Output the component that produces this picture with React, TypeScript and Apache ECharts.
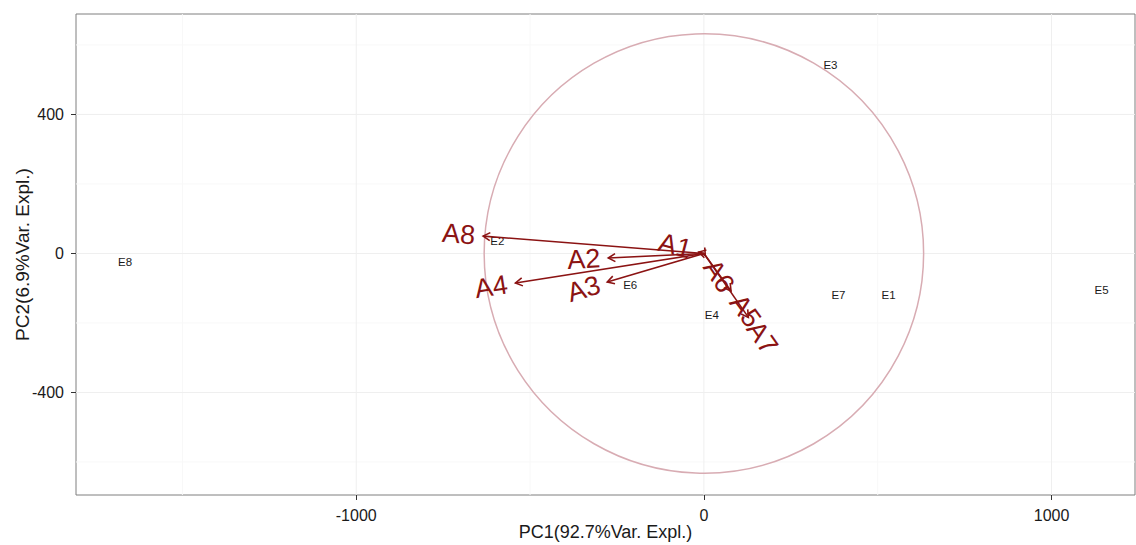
import { useEffect, useRef } from 'react';
import * as echarts from 'echarts';

// Sample scores (PC1, PC2)
const sampleNames = ['E1', 'E2', 'E3', 'E4', 'E5', 'E6', 'E7', 'E8'];
const sampleX = [531, -594, 364, 23, 1144, -212, 387, -1665];
const sampleY = [-119, 36, 542, -177, -104, -91, -119, -24];

// Variable loadings drawn as arrows from the origin
const varNames = ['A1', 'A2', 'A3', 'A4', 'A5', 'A6', 'A7', 'A8'];
const varX = [-15, -275, -278, -542, 78, 4, 128, -635];
const varY = [4, -13, -82, -85, -108, -6, -184, 50];

// Correlation circle radius in score units
const circleRadius = 632;

// Axis ranges and tick/grid positions
const xRange = [-1806, 1240];
const yRange = [-695, 689];
const xTicks = [-1000, 0, 1000];
const yTicks = [-400, 0, 400];
const xMinor = [-1500, -500, 500];
const yMinor = [-600, -200, 200, 600];

const FONT = '"Liberation Sans", Arial, sans-serif';
const DARKRED = '#8b1313';

// rows: [value, orientation (0 = vertical, 1 = horizontal), major flag]
const gridRows: number[][] = [
  ...xMinor.map((v) => [v, 0, 0]),
  ...yMinor.map((v) => [v, 1, 0]),
  ...xTicks.map((v) => [v, 0, 1]),
  ...yTicks.map((v) => [v, 1, 1]),
];

const plainNumber = (v: number) => String(v);

const option: any = {
  animation: false,
  backgroundColor: '#ffffff',
  grid: {
    left: 76,
    right: 1,
    top: 14,
    bottom: 50,
    containLabel: false,
    outerBoundsMode: 'none',
    show: true,
    borderColor: '#7f7f7f',
    borderWidth: 1,
    backgroundColor: '#ffffff',
  },
  xAxis: {
    type: 'value',
    min: xRange[0],
    max: xRange[1],
    name: 'PC1(92.7%Var. Expl.)',
    nameLocation: 'middle',
    nameGap: 28,
    nameMoveOverlap: false,
    nameTextStyle: { fontSize: 18, color: '#1a1a1a', fontFamily: FONT },
    axisLine: { show: false, onZero: false },
    axisTick: { show: true, customValues: xTicks, length: 5, lineStyle: { color: '#333333', width: 1 } },
    axisLabel: {
      customValues: xTicks,
      formatter: plainNumber,
      fontSize: 16,
      color: '#1a1a1a',
      margin: 12,
      fontFamily: FONT,
    },
    splitLine: { show: false },
  },
  yAxis: {
    type: 'value',
    min: yRange[0],
    max: yRange[1],
    name: 'PC2(6.9%Var. Expl.)',
    nameLocation: 'middle',
    nameGap: 44,
    nameMoveOverlap: false,
    nameTextStyle: { fontSize: 19, color: '#1a1a1a', fontFamily: FONT },
    axisLine: { show: false, onZero: false },
    axisTick: { show: true, customValues: yTicks, length: 5, lineStyle: { color: '#333333', width: 1 } },
    axisLabel: {
      customValues: yTicks,
      formatter: plainNumber,
      fontSize: 16,
      color: '#1a1a1a',
      margin: 12,
      fontFamily: FONT,
    },
    splitLine: { show: false },
  },
  series: [
    {
      // background grid lines
      type: 'custom',
      z: 1,
      silent: true,
      data: gridRows,
      dimensions: ['v', 'o', 'm'],
      encode: { x: 0, y: 1 },
      renderItem: (_params: any, api: any) => {
        const v = api.value(0);
        const vertical = api.value(1) === 0;
        const major = api.value(2) === 1;
        const p1 = vertical ? api.coord([v, yRange[0]]) : api.coord([xRange[0], v]);
        const p2 = vertical ? api.coord([v, yRange[1]]) : api.coord([xRange[1], v]);
        return {
          type: 'line',
          shape: { x1: p1[0], y1: p1[1], x2: p2[0], y2: p2[1] },
          style: { stroke: major ? '#efefef' : '#f8f8f8', lineWidth: 1 },
        };
      },
    },
    {
      // correlation circle
      type: 'custom',
      z: 2,
      silent: true,
      data: [[0, 0, circleRadius]],
      encode: { x: 0, y: 1 },
      renderItem: (_params: any, api: any) => {
        const c = api.coord([api.value(0), api.value(1)]);
        const r = api.size([api.value(2), 0])[0];
        return {
          type: 'circle',
          shape: { cx: c[0], cy: c[1], r },
          style: { fill: 'none', stroke: '#d8acb3', lineWidth: 1.5 },
        };
      },
    },
    {
      // sample labels
      type: 'custom',
      z: 3,
      silent: true,
      data: sampleX.map((x, i) => [x, sampleY[i]]),
      encode: { x: 0, y: 1 },
      renderItem: (params: any, api: any) => {
        const p = api.coord([api.value(0), api.value(1)]);
        return {
          type: 'text',
          x: p[0],
          y: p[1],
          style: {
            text: sampleNames[params.dataIndex],
            align: 'center',
            verticalAlign: 'middle',
            fill: '#1a1a1a',
            fontSize: 11.5,
            fontFamily: FONT,
          },
        };
      },
    },
    {
      // loading arrows with rotated labels
      type: 'custom',
      z: 4,
      silent: true,
      data: varX.map((x, i) => [x, varY[i]]),
      encode: { x: 0, y: 1 },
      renderItem: (params: any, api: any) => {
        const vx = api.value(0);
        const vy = api.value(1);
        const o = api.coord([0, 0]);
        const e = api.coord([vx, vy]);
        const dx = o[0] - e[0];
        const dy = o[1] - e[1];
        const len = Math.hypot(dx, dy) || 1;
        const ux = dx / len;
        const uy = dy / len;
        const headLen = 8;
        const a = Math.PI / 6;
        const h1 = [
          e[0] + headLen * (ux * Math.cos(a) - uy * Math.sin(a)),
          e[1] + headLen * (ux * Math.sin(a) + uy * Math.cos(a)),
        ];
        const h2 = [
          e[0] + headLen * (ux * Math.cos(-a) - uy * Math.sin(-a)),
          e[1] + headLen * (ux * Math.sin(-a) + uy * Math.cos(-a)),
        ];
        const angle = Math.atan(vy / vx);
        const left = vx < 0;
        return {
          type: 'group',
          children: [
            {
              type: 'line',
              shape: { x1: o[0], y1: o[1], x2: e[0], y2: e[1] },
              style: { stroke: DARKRED, lineWidth: 1.6 },
            },
            {
              type: 'polyline',
              shape: { points: [h1, e, h2] },
              style: { stroke: DARKRED, lineWidth: 1.6, fill: 'none' },
            },
            {
              type: 'text',
              x: e[0],
              y: e[1],
              rotation: angle,
              style: {
                text: varNames[params.dataIndex],
                x: left ? -8 : 8,
                y: 0,
                align: left ? 'right' : 'left',
                verticalAlign: 'middle',
                fill: DARKRED,
                fontSize: 27,
                fontFamily: FONT,
              },
            },
          ],
        };
      },
    },
  ],
};

export default function App() {
  const ref = useRef<HTMLDivElement>(null);
  useEffect(() => {
    const chart = echarts.init(ref.current!, null, { renderer: 'svg' });
    chart.setOption(option);
    return () => chart.dispose();
  }, []);
  return (
    <div
      ref={ref}
      style={{ position: 'fixed', left: 0, top: 0, width: 1136, height: 545, background: '#ffffff' }}
    />
  );
}
